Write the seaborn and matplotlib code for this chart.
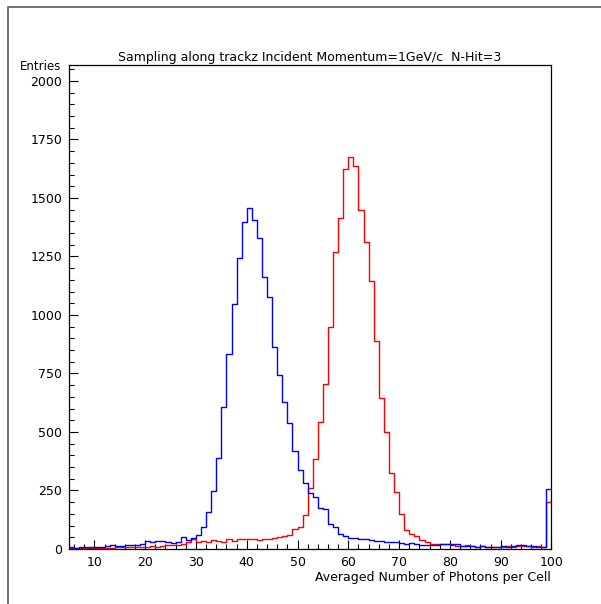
import numpy as np
import pandas as pd
import matplotlib
matplotlib.use('Agg')
import matplotlib.pyplot as plt
from matplotlib.lines import Line2D
from matplotlib.ticker import MultipleLocator
import seaborn as sns

# histogram bins: lower edges 5..99, width 1
bin_lo = list(range(5, 100))

# N-Hit=3, blue histogram (entries per bin)
blue_counts = [8, 6, 7, 8, 9, 9, 10, 12, 15, 14,
               14, 15, 17, 18, 21, 32, 30, 34, 32, 30,
               27, 28, 50, 38, 45, 58, 93, 160, 248, 390,
               608, 832, 1048, 1242, 1396, 1456, 1406, 1328, 1160, 1076,
               862, 744, 627, 540, 420, 338, 281, 241, 221, 174,
               169, 106, 93, 63, 56, 48, 46, 42, 42, 40,
               35, 32, 31, 29, 30, 27, 21, 24, 20, 17,
               19, 19, 17, 20, 20, 23, 20, 14, 13, 14,
               10, 14, 10, 8, 7, 12, 8, 12, 17, 15,
               12, 11, 10, 10, 255]

# red histogram
red_counts = [6, 4, 4, 5, 4, 5, 5, 6, 6, 7,
              8, 7, 8, 9, 10, 10, 11, 10, 14, 15,
              17, 15, 21, 28, 41, 30, 35, 30, 38, 35,
              30, 41, 33, 41, 44, 41, 44, 38, 41, 44,
              47, 50, 55, 60, 85, 93, 145, 262, 383, 541,
              703, 950, 1268, 1416, 1624, 1676, 1638, 1447, 1313, 1145,
              890, 644, 499, 323, 245, 150, 79, 63, 55, 39,
              31, 21, 21, 21, 21, 17, 14, 13, 19, 13,
              10, 12, 10, 9, 10, 10, 12, 10, 14, 14,
              12, 10, 14, 10, 202]

x_ticks = [10, 20, 30, 40, 50, 60, 70, 80, 90, 100]
y_ticks = [0, 250, 500, 750, 1000, 1250, 1500, 1750, 2000]

title = 'Sampling along trackz Incident Momentum=1GeV/c  N-Hit=3'
xlabel = 'Averaged Number of Photons per Cell'
ylabel = 'Entries'

sns.set_theme(style='white')
plt.rcParams['font.family'] = ['DejaVu Sans']
plt.rcParams['text.color'] = 'black'
plt.rcParams['xtick.color'] = 'black'
plt.rcParams['ytick.color'] = 'black'

df = pd.DataFrame({'lo': bin_lo, 'blue': blue_counts, 'red': red_counts})
df['mid'] = df['lo'] + 0.5
edges = list(bin_lo) + [bin_lo[-1] + 1]

fig = plt.figure(figsize=(6.01, 6.04), dpi=100)
ax = fig.add_axes([0.1148, 0.0911, 0.8028, 0.8013])

sns.histplot(data=df, x='mid', weights='red', bins=edges, element='step',
             fill=False, color='#ff0000', linewidth=1.0, ax=ax)
sns.histplot(data=df, x='mid', weights='blue', bins=edges, element='step',
             fill=False, color='#0000ff', linewidth=1.0, ax=ax)

ax.set_xlim(5, 100)
ax.set_ylim(0, 2068)
ax.set_xticks(x_ticks)
ax.set_yticks(y_ticks)
ax.xaxis.set_minor_locator(MultipleLocator(2))
ax.yaxis.set_minor_locator(MultipleLocator(50))
ax.tick_params(which='major', direction='in', length=6.5, width=0.8,
               color='black', labelcolor='black', labelsize=9, pad=5)
ax.tick_params(which='minor', direction='in', length=3.3, width=0.8,
               color='black')
ax.tick_params(axis='x', which='both', bottom=True, top=False)
ax.tick_params(axis='y', which='both', left=True, right=False)
ax.set_xlabel('')
ax.set_ylabel('')
for s in ax.spines.values():
    s.set_color('black')
    s.set_linewidth(0.9)

fig.text(310 / 601, 1 - 57 / 604, title, ha='center', va='center',
         fontsize=9, color='black')
fig.text(551 / 601, 1 - 577 / 604, xlabel, ha='right', va='center',
         fontsize=9, color='black')
fig.text(20 / 601, 1 - 66 / 604, ylabel, ha='left', va='center',
         fontsize=8.5, color='black')

# outer page frame
fig.add_artist(Line2D([8 / 601, 8 / 601, 1.0], [0.0, 1 - 7 / 604, 1 - 7 / 604],
                      transform=fig.transFigure, color='#666666', linewidth=1.3))

fig.savefig('out.png', dpi=100)
